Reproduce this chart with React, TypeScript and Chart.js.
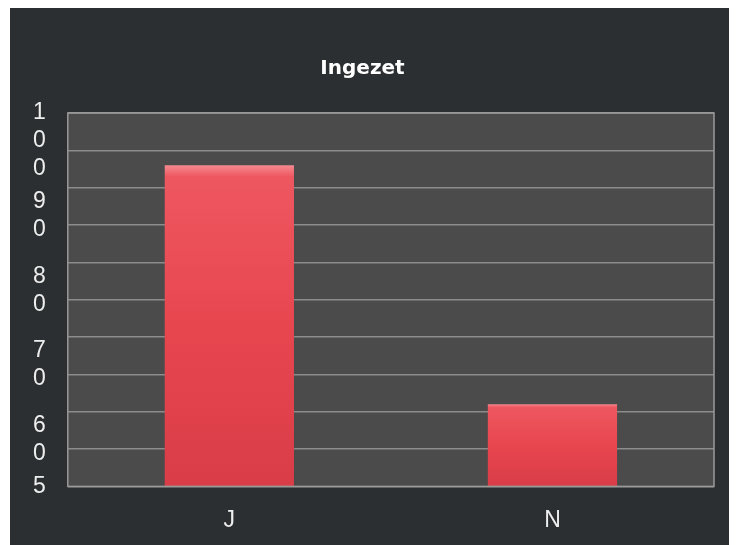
import { useEffect, useRef } from "react";
import { Chart, registerables } from "chart.js";

Chart.register(...registerables);

const chartTitle = "Ingezet";
const categories = ["J", "N"];
const values = [93, 61];
const yMin = 50;
const yMax = 100;
const yStep = 5;
const yTickValues = [100, 90, 80, 70, 60, 50];
const yTickTexts = ["100", "90", "80", "70", "60", "5"];

const plotFrame = {
  id: "plotFrame",
  beforeDraw(chart: any) {
    const { ctx, chartArea: a } = chart;
    ctx.save();
    ctx.fillStyle = "#4b4b4b";
    ctx.fillRect(a.left, a.top, a.right - a.left, a.bottom - a.top);
    ctx.restore();
  },
  afterDatasetsDraw(chart: any) {
    const { ctx, chartArea: a } = chart;
    ctx.save();
    ctx.strokeStyle = "#9a9a9a";
    ctx.lineWidth = 1.5;
    ctx.strokeRect(a.left, a.top, a.right - a.left, a.bottom - a.top);
    ctx.restore();
  },
};

export default function App() {
  const ref = useRef<HTMLCanvasElement>(null);

  useEffect(() => {
    if (!ref.current) return;
    const chart = new Chart(ref.current, {
      type: "bar",
      data: {
        labels: categories,
        datasets: [
          {
            data: values,
            backgroundColor: (c: any) => {
              const chart = c.chart;
              const y = chart.scales?.y;
              const a = chart.chartArea;
              if (!y || !a || c.raw == null) return "#e8464f";
              const top = y.getPixelForValue(c.raw);
              const g = chart.ctx.createLinearGradient(0, top, 0, a.bottom);
              g.addColorStop(0, "#f58a90");
              g.addColorStop(0.035, "#ee5760");
              g.addColorStop(0.5, "#e8464f");
              g.addColorStop(1, "#d93d48");
              return g;
            },
            borderWidth: 0,
            barPercentage: 0.8,
            categoryPercentage: 0.5,
          },
        ],
      },
      options: {
        animation: false,
        responsive: true,
        maintainAspectRatio: false,
        layout: { padding: { left: 1, right: 19, top: 0, bottom: -9 } },
        plugins: {
          legend: { display: false },
          tooltip: { enabled: false },
          title: {
            display: true,
            text: chartTitle,
            color: "#ffffff",
            font: { family: "DejaVu Sans", size: 20, weight: "bold", lineHeight: 1.2 },
            padding: { top: 49, bottom: 32 },
          },
        },
        scales: {
          x: {
            grid: { display: false, drawTicks: false },
            border: { display: false },
            ticks: {
              color: "#eeeeee",
              padding: 20,
              font: { family: "Liberation Sans", size: 23 },
            },
          },
          y: {
            min: yMin,
            max: yMax,
            grid: { color: "#8c8c8c", lineWidth: 1.5, drawTicks: false },
            border: { display: false },
            ticks: {
              stepSize: yStep,
              autoSkip: false,
              color: "#eeeeee",
              padding: 22,
              font: { family: "Liberation Sans", size: 23, lineHeight: "28px" },
              callback: (value: any) => {
                const i = yTickValues.indexOf(Number(value));
                if (i < 0) return "";
                const chars = yTickTexts[i].split("");
                return chars.length > 1 ? ["", "", ...chars] : chars;
              },
            },
          },
        },
      },
      plugins: [plotFrame],
    } as any);
    return () => chart.destroy();
  }, []);

  return (
    <div
      style={{
        marginLeft: 2,
        width: 723,
        height: 537,
        background: "#2b2f31",
        position: "relative",
      }}
    >
      <canvas ref={ref} />
    </div>
  );
}
